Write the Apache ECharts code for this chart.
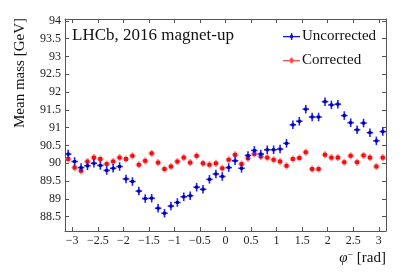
<!DOCTYPE html>
<html>
<head>
<meta charset="utf-8">
<script src="https://cdn.jsdelivr.net/npm/echarts@6/dist/echarts.min.js"></script>
<style>html,body{margin:0;padding:0;background:#fff;}#c{width:407px;height:276px;}</style>
</head>
<body>
<div id="c"></div>
<script>
// bin centres of phi^- [rad] (50 bins over [-pi, pi])
const phi = [-3.079,-2.953,-2.827,-2.702,-2.576,-2.450,-2.325,-2.199,-2.073,-1.948,
             -1.822,-1.696,-1.571,-1.445,-1.319,-1.194,-1.068,-0.942,-0.817,-0.691,
             -0.565,-0.440,-0.314,-0.188,-0.063, 0.063, 0.188, 0.314, 0.440, 0.565,
              0.691, 0.817, 0.942, 1.068, 1.194, 1.319, 1.445, 1.571, 1.696, 1.822,
              1.948, 2.073, 2.199, 2.325, 2.450, 2.576, 2.702, 2.827, 2.953, 3.079];
const uncorrected = [90.26,90.05,89.88,89.93,90.00,89.94,89.80,89.86,89.91,89.56,
                     89.49,89.22,89.01,89.02,88.74,88.60,88.80,88.90,89.06,89.09,
                     89.33,89.27,89.55,89.70,89.63,89.88,90.07,89.86,90.22,90.36,
                     90.26,90.38,90.38,90.40,90.56,91.08,91.18,91.52,91.30,91.30,
                     91.73,91.64,91.66,91.34,91.14,90.94,91.13,90.86,90.63,90.89];
const corrected = [90.12,89.88,89.79,90.05,90.16,90.12,89.98,90.05,90.16,90.12,
                   90.21,89.96,90.07,90.28,90.02,89.84,89.91,90.05,90.16,90.02,
                   90.21,90.00,89.96,90.00,89.86,90.10,90.24,89.98,90.14,90.26,
                   90.19,90.16,90.10,90.05,89.93,90.12,90.15,90.31,89.84,89.84,
                   90.24,90.16,90.16,90.03,90.21,90.03,90.22,90.16,89.91,90.16];
const binHalfWidth = 0.063;
const errUncorrected = 0.12;
const errCorrected = 0.10;
const seriesNames = ['Uncorrected', 'Corrected'];
const xRange = [-Math.PI, Math.PI];
const yRange = [88.1, 94.05];

const FONT = 'Liberation Serif';
const AXC = '#555';

function makeRender(err, arm, armW, fill, sz) {
  return function (params, api) {
    const x = api.value(0), y = api.value(1);
    const c = api.coord([x, y]);
    const l = api.coord([x - binHalfWidth, y]);
    const r = api.coord([x + binHalfWidth, y]);
    const t = api.coord([x, y + err]);
    const b = api.coord([x, y - err]);
    return {
      type: 'group',
      children: [
        {type: 'line', shape: {x1: l[0], y1: c[1], x2: r[0], y2: c[1]}, style: {stroke: arm, lineWidth: armW}},
        {type: 'line', shape: {x1: c[0], y1: t[1], x2: c[0], y2: b[1]}, style: {stroke: arm, lineWidth: armW}},
        {type: 'rect', shape: {x: c[0] - sz / 2, y: c[1] - sz / 2, width: sz, height: sz}, style: {fill: fill}}
      ]
    };
  };
}

const fmt = v => String(v).replace('-', '\u2212');
const xAxisBase = {
  type: 'value', min: xRange[0], max: xRange[1],
  splitNumber: 12, minInterval: 0.5, maxInterval: 0.5,
  splitLine: {show: false},
  axisLine: {onZero: false, lineStyle: {color: AXC, width: 1}},
  axisTick: {inside: true, length: 4, lineStyle: {color: AXC}}
};
const yAxisBase = {
  type: 'value', min: yRange[0], max: yRange[1],
  splitNumber: 12, minInterval: 0.5, maxInterval: 0.5,
  splitLine: {show: false},
  axisLine: {show: true, onZero: false, lineStyle: {color: AXC, width: 1}},
  axisTick: {show: true, inside: true, length: 4, lineStyle: {color: AXC}}
};

const chart = echarts.init(document.getElementById('c'), null, {renderer: 'canvas'});
chart.setOption({
  backgroundColor: '#fff',
  animation: false,
  grid: {left: 65, right: 21, top: 19, bottom: 45},
  xAxis: [
    Object.assign({}, xAxisBase, {position: 'bottom',
      axisLabel: {fontFamily: FONT, fontSize: 12, color: '#222', margin: 4,
        showMinLabel: false, showMaxLabel: false, formatter: fmt}}),
    Object.assign({}, xAxisBase, {position: 'top', axisLabel: {show: false}})
  ],
  yAxis: [
    Object.assign({}, yAxisBase, {position: 'left',
      axisLabel: {fontFamily: FONT, fontSize: 12, color: '#222', margin: 4,
        showMinLabel: false, showMaxLabel: false}}),
    Object.assign({}, yAxisBase, {position: 'right', axisLabel: {show: false}})
  ],
  legend: {
    orient: 'vertical', left: 278, top: 24, itemGap: 9,
    itemWidth: 17, itemHeight: 7,
    textStyle: {fontFamily: FONT, fontSize: 15, color: '#111', padding: [0, 0, 0, -3]},
    data: [
      {name: seriesNames[0], icon: 'path://M0,3h17v1.2H0z M7.9,0h1.4v7H7.9z M7.1,2.1h3v3h-3z'},
      {name: seriesNames[1], icon: 'path://M0,3h17v1.2H0z M7.9,0.5h1.4v6H7.9z M6.6,1.6h4v4h-4z'}
    ]
  },
  graphic: [
    {type: 'text', left: 72, top: 27, style: {text: 'LHCb, 2016 magnet-up', font: '17px "Liberation Serif"', fill: '#111'}},
    {type: 'text', x: 20, y: 18, rotation: Math.PI / 2,
      style: {text: 'Mean mass [GeV]', font: '15px "Liberation Serif"', fill: '#111', align: 'right', verticalAlign: 'middle'}},
    {type: 'text', x: 386, y: 258,
      style: {text: '{i|\u03C6}{s|\u2212} [rad]', align: 'right', verticalAlign: 'middle',
        font: '15px "Liberation Serif"', fill: '#111',
        rich: {i: {fontFamily: FONT, fontSize: 15, fontStyle: 'italic', fill: '#111'},
               s: {fontFamily: FONT, fontSize: 10, fill: '#111', verticalAlign: 'top', padding: [0, 0, 6, 0]}}}}
  ],
  series: [
    {
      name: seriesNames[1], type: 'custom', xAxisIndex: 0, yAxisIndex: 0,
      itemStyle: {color: '#ff5050'},
      renderItem: makeRender(errCorrected, 'rgba(255,110,110,0.75)', 2, '#ee1010', 4),
      data: phi.map((p, i) => [p, corrected[i]]), z: 2
    },
    {
      name: seriesNames[0], type: 'custom', xAxisIndex: 0, yAxisIndex: 0,
      itemStyle: {color: '#1010ff'},
      renderItem: makeRender(errUncorrected, '#2020ff', 1.6, '#0000a0', 3),
      data: phi.map((p, i) => [p, uncorrected[i]]), z: 3
    }
  ]
});
</script>
</body>
</html>
